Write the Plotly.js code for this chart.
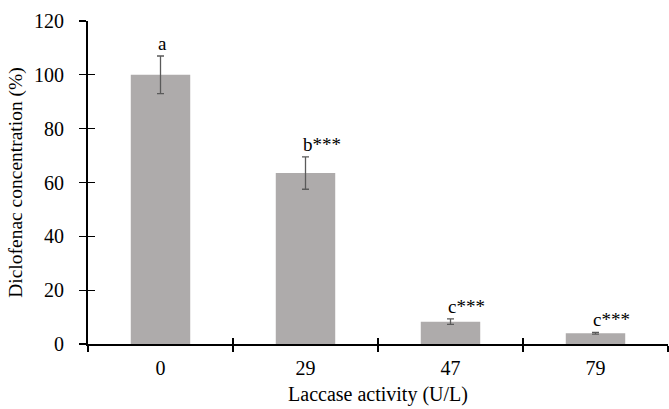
<!DOCTYPE html>
<html><head><meta charset="utf-8">
<script src="https://cdn.plot.ly/plotly-3.0.1.min.js"></script>
<style>html,body{margin:0;padding:0;background:#fff;}#chart{width:669px;height:409px;}</style>
</head><body><div id="chart"></div>
<script>
const categories = ['0', '29', '47', '79'];
const values = [100, 63.5, 8.3, 4.0];
const errors = [7, 6, 1, 0.3];
const labels = ['a', 'b***', 'c***', 'c***'];
const yTicks = [0, 20, 40, 60, 80, 100, 120];

const font = {family: '"Liberation Serif", "Times New Roman", serif', color: '#000'};

const traces = [
  {
    type: 'bar', x: categories, y: values,
    marker: {color: '#AEABAB'},
    error_y: {type: 'data', array: errors, visible: true, color: '#5a5a5a', thickness: 1.3, width: 3.5},
    hoverinfo: 'none', showlegend: false
  },
  {
    type: 'scatter', mode: 'markers', x: categories, y: values, xaxis: 'x2', yaxis: 'y2',
    marker: {opacity: 0}, hoverinfo: 'none', showlegend: false
  }
];

const annotations = categories.map((c, i) => ({
  x: i, y: values[i] + errors[i], xref: 'x', yref: 'y',
  text: labels[i], showarrow: false, xanchor: 'left', yanchor: 'bottom',
  xshift: -5, yshift: 0, font: Object.assign({size: 19}, font)
}));

const layout = {
  width: 669, height: 409,
  margin: {l: 88, r: 1, t: 21, b: 64.5},
  paper_bgcolor: '#fff', plot_bgcolor: '#fff',
  bargap: 0.59,
  font: font,
  xaxis: {
    type: 'category', tickson: 'boundaries', ticks: 'outside', ticklen: 6, tickwidth: 1.3, tickcolor: '#000',
    range: [-0.5, 3.5],
    showline: true, linecolor: '#000', linewidth: 2, showgrid: false, zeroline: false,
    tickfont: Object.assign({size: 20}, font), ticklabelstandoff: 5,
    title: {text: 'Laccase activity (U/L)', font: Object.assign({size: 20}, font), standoff: 9}
  },
  yaxis: {
    range: [0, 120], tickvals: yTicks, ticks: 'outside', ticklen: 7, tickwidth: 1.3, tickcolor: '#000',
    showline: true, linecolor: '#000', linewidth: 2, showgrid: false, zeroline: false,
    tickfont: Object.assign({size: 20}, font), ticklabelstandoff: 11,
    title: {text: 'Diclofenac concentration (%)', font: Object.assign({size: 19.5}, font), standoff: 6}
  },
  xaxis2: {
    type: 'category', overlaying: 'x', range: [-0.5, 3.5], tickson: 'boundaries', ticks: 'inside', ticklen: 6, tickwidth: 1.3, tickcolor: '#000',
    showticklabels: false, showline: false, showgrid: false, zeroline: false, side: 'bottom'
  },
  yaxis2: {
    range: [0, 120], tickvals: yTicks, overlaying: 'y', ticks: 'inside', ticklen: 7, tickwidth: 1.3, tickcolor: '#000',
    showticklabels: false, showline: false, showgrid: false, zeroline: false, side: 'left'
  },
  annotations: annotations
};

Plotly.newPlot('chart', traces, layout, {staticPlot: true, displayModeBar: false});
</script></body></html>
